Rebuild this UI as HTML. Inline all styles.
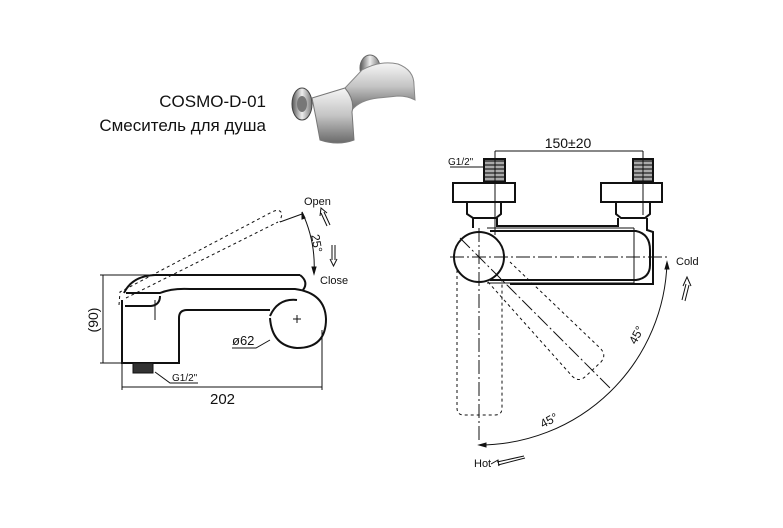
<!DOCTYPE html>
<html><head><meta charset="utf-8"><style>
html,body{margin:0;padding:0;background:#fff;}
svg{display:block;}
text{font-family:"Liberation Sans",sans-serif;fill:#111;}
</style></head><body>
<svg width="783" height="528" viewBox="0 0 783 528" xmlns="http://www.w3.org/2000/svg">
<defs>
<linearGradient id="g1" x1="0" y1="0" x2="0" y2="1"><stop offset="0" stop-color="#f6f6f6"/><stop offset="0.5" stop-color="#c4c4c4"/><stop offset="1" stop-color="#6a6a6a"/></linearGradient>
<linearGradient id="g2" x1="0" y1="0" x2="1" y2="0"><stop offset="0" stop-color="#555"/><stop offset="0.5" stop-color="#eee"/><stop offset="1" stop-color="#777"/></linearGradient>
</defs>
<text x="266" y="107" font-size="17" text-anchor="end">COSMO-D-01</text>
<text x="266" y="131" font-size="17" text-anchor="end">Смеситель для душа</text>
<!-- photo -->
<g>
<ellipse cx="370" cy="68" rx="10" ry="13" fill="url(#g2)" stroke="#666"/>
<path d="M345 88 L362 70 Q380 60 398 64 Q414 70 414 85 L415 100 Q408 96 398 96 L378 98 Q360 100 352 110 Z" fill="url(#g1)" stroke="#888"/>
<ellipse cx="302" cy="104" rx="10" ry="16" fill="url(#g2)" stroke="#444"/>
<ellipse cx="302" cy="104" rx="5" ry="8" fill="#777"/>
<path d="M312 98 L345 88 Q355 100 352 112 L354 140 Q338 146 320 140 L316 118 Z" fill="url(#g1)" stroke="#777"/>
</g>
<!-- LEFT DRAWING -->
<g fill="none" stroke="#111" stroke-width="2">
<path d="M300 275 L155 275 Q132 276 124 293"/>
<path d="M300 275 Q309 282 303 290"/>
<path d="M126 293 L160 293 Q172 288 190 289 L295 289 Q325 293 326 319 Q326 348 297 348 Q272 346 270 318"/>
<path d="M125 306 L151 306 Q160 305 160 296"/>
<path d="M122 300 L122 363 L179 363 L179 318 Q179 310 187 310 L270 310"/>
<path d="M270 316 Q278 298 297 300"/>
</g>
<g stroke="#111" stroke-width="1" fill="none">
<rect x="133" y="363" width="20" height="10" fill="#333"/>
<line x1="155" y1="300" x2="155" y2="320"/>
<line x1="293" y1="319" x2="301" y2="319"/><line x1="297" y1="315" x2="297" y2="323"/>
<path d="M119 305 L120 292 L272 212 Q280 208 282 214 L280 222" stroke-dasharray="3,3"/>
<line x1="126" y1="298" x2="278" y2="222" stroke-dasharray="3,3"/>
<line x1="280" y1="222" x2="302" y2="214"/>
<path d="M302 212 Q316 242 314 274"/>
<path d="M314 274 l-2 -7 l4 0 z" fill="#111"/>
<path d="M302 212 l0 7 l3 -1 z" fill="#111"/>
<path d="M330 225 L324 212 M327 226 L321 213 M320 216 l1 -8 l6 5"/>
<path d="M332 245 L332 260 M335 245 L335 260 M330 259 l3.5 7 l3.5 -7"/>
<line x1="103" y1="275" x2="103" y2="363"/>
<line x1="100" y1="275" x2="150" y2="275"/>
<line x1="100" y1="363" x2="122" y2="363"/>
<line x1="122" y1="300" x2="122" y2="390"/>
<line x1="322" y1="330" x2="322" y2="390"/>
<line x1="122" y1="387" x2="322" y2="387"/>
<path d="M232 348 L256 348 L270 340"/>
<path d="M155 372 L170 383 L198 383"/>
</g>
<text x="304" y="205" font-size="11">Open</text>
<text x="320" y="284" font-size="11">Close</text>
<text x="307" y="240" font-size="12" transform="rotate(80 312 240)">25°</text>
<text x="232" y="345" font-size="13">ø62</text>
<text x="172" y="381" font-size="10">G1/2"</text>
<text x="210" y="404" font-size="15">202</text>
<text x="98" y="320" font-size="14" transform="rotate(-90 98 320)" text-anchor="middle">(90)</text>
<!-- RIGHT DRAWING -->
<g fill="none" stroke="#111" stroke-width="2">
<rect x="453" y="183" width="62" height="19"/>
<rect x="601" y="183" width="61" height="19"/>
<path d="M467 202 L467 214 L473 218 L496 218 L501 214 L501 202"/>
<path d="M616 202 L616 214 L621 218 L645 218 L650 214 L650 202"/>
<path d="M473 218 L473 228 M497 218 L497 226 L618 226 L618 218 M647 218 L647 230 L653 232 L653 284 L510 284"/>
<path d="M490 231 L636 231 Q650 234 650 250 L650 265 Q650 278 636 280 L490 280"/>
<circle cx="479" cy="257" r="25"/>
<path d="M484 159 L505 159 L505 182 L484 182 Z M633 159 L653 159 L653 182 L633 182 Z" fill="#555"/>
</g>
<g stroke="#fff" stroke-width="1">
<path d="M485 163 H504 M485 167 H504 M485 171 H504 M485 175 H504 M485 179 H504 M634 163 H652 M634 167 H652 M634 171 H652 M634 175 H652 M634 179 H652"/>
</g>
<g stroke="#111" stroke-width="1" fill="none">
<line x1="487" y1="228" x2="634" y2="228"/>
<line x1="487" y1="283" x2="634" y2="283"/>
<line x1="634" y1="228" x2="634" y2="283"/>
<line x1="450" y1="257" x2="670" y2="257" stroke-dasharray="14,3,2,3"/>
<line x1="479" y1="228" x2="479" y2="443" stroke-dasharray="14,3,2,3"/>
<line x1="460" y1="238" x2="610" y2="388" stroke-dasharray="14,3,2,3"/>
<line x1="495" y1="151" x2="495" y2="235"/>
<line x1="643" y1="151" x2="643" y2="215"/>
<line x1="495" y1="151" x2="643" y2="151"/>
<line x1="450" y1="167" x2="484" y2="167"/>
<path d="M457 270 L457 408 Q457 415 464 415 L495 415 Q502 415 502 408 L502 280" stroke-dasharray="3,3"/>
<path d="M488 282 L572 376 Q579 383 586 376 L601 362 Q607 355 600 348 L510 262" stroke-dasharray="3,3"/>
<path d="M667 262 A188 188 0 0 1 479 445"/>
<path d="M479 445 l7 -2 l0 4 z M667 262 l-2 7 l4 0 z" fill="#111"/>
<path d="M682 300 L686 284 M685 301 L689 285 M683 286 l4 -9 l4 9"/>
<path d="M497 462 L524 456 M498 465 L525 458 M491 464 l7 -4 l1 6"/>
</g>
<text x="568" y="148" font-size="14" text-anchor="middle">150±20</text>
<text x="448" y="165" font-size="10">G1/2"</text>
<text x="676" y="265" font-size="11">Cold</text>
<text x="474" y="467" font-size="11">Hot</text>
<text x="628" y="340" font-size="12" transform="rotate(-62 636 336)">45°</text>
<text x="540" y="425" font-size="12" transform="rotate(-28 548 421)">45°</text>
</svg>
</body></html>
